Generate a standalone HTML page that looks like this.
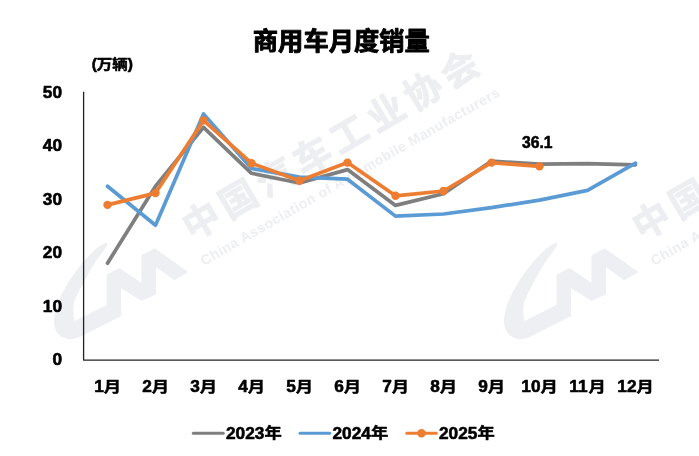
<!DOCTYPE html>
<html lang="zh-CN">
<head>
<meta charset="utf-8">
<title>商用车月度销量</title>
<style>
html,body{margin:0;padding:0;background:#fff;}
body{width:699px;height:456px;overflow:hidden;}
svg{display:block;}
text{font-family:"Liberation Sans", "Noto Sans CJK SC", sans-serif;font-weight:bold;fill:#000;stroke:#000;stroke-width:0.55px;stroke-linejoin:round;}
.wm text{fill:#edeef2;stroke:none;}
.wm .cn{font-weight:bold;font-size:37px;letter-spacing:5.8px;stroke:#edeef2;stroke-width:0.9px;}
.wm .en{font-weight:bold;font-size:14px;}
.ttl{stroke-width:0.9px;}
.leg{font-size:16px;}
</style>
</head>
<body>
<svg width="699" height="456" viewBox="0 0 699 456">
<rect width="699" height="456" fill="#fff"/>

<g class="wm" transform="translate(0,0)">
<path d="M106.8,241.9 C105.0,243.1 99.6,245.9 96.0,248.8 C92.4,251.8 88.7,255.8 85.3,259.6 C81.9,263.4 78.9,267.2 75.6,271.8 C72.3,276.4 68.6,281.7 65.5,287.2 C62.4,292.7 58.9,299.1 57.0,305.0 C55.1,310.9 53.7,317.8 54.0,322.7 C54.3,327.6 56.2,331.7 58.8,334.5 C61.4,337.3 65.9,338.9 69.5,339.3 C73.1,339.7 78.4,337.2 80.2,336.8 L121.2,316.1 L121.0,288.3 L141.4,300.8 L156.0,292.8 L119.6,267.9 L106.6,274.5 L106.6,305.0 L74.5,321.0 C74.3,319.7 73.5,316.1 73.4,313.1 C73.3,310.1 73.1,306.6 74.0,303.0 C74.9,299.4 76.7,296.2 78.8,291.8 C80.9,287.4 83.9,281.5 86.8,276.4 C89.7,271.3 92.8,266.0 96.0,261.1 C99.2,256.2 104.2,250.5 106.0,247.3 C107.8,244.1 106.7,242.8 106.8,241.9 Z" fill="#eeeff3"/>
<path d="M154.6,248.2 L188.3,272.0 L174.3,280.2 L155.9,267.1 L155.9,294.5 L141.4,300.8 L141.4,255.6 Z" fill="#eeeff3"/>
<text class="cn" transform="translate(192.2,241.6) rotate(-30.4)">中国汽车工业协会</text>
<text class="en" transform="translate(204.1,265.9) rotate(-29.9)" textLength="342" lengthAdjust="spacing">China Association of Automobile Manufacturers</text>
</g>
<g class="wm" transform="translate(450,0)">
<path d="M106.8,241.9 C105.0,243.1 99.6,245.9 96.0,248.8 C92.4,251.8 88.7,255.8 85.3,259.6 C81.9,263.4 78.9,267.2 75.6,271.8 C72.3,276.4 68.6,281.7 65.5,287.2 C62.4,292.7 58.9,299.1 57.0,305.0 C55.1,310.9 53.7,317.8 54.0,322.7 C54.3,327.6 56.2,331.7 58.8,334.5 C61.4,337.3 65.9,338.9 69.5,339.3 C73.1,339.7 78.4,337.2 80.2,336.8 L121.2,316.1 L121.0,288.3 L141.4,300.8 L156.0,292.8 L119.6,267.9 L106.6,274.5 L106.6,305.0 L74.5,321.0 C74.3,319.7 73.5,316.1 73.4,313.1 C73.3,310.1 73.1,306.6 74.0,303.0 C74.9,299.4 76.7,296.2 78.8,291.8 C80.9,287.4 83.9,281.5 86.8,276.4 C89.7,271.3 92.8,266.0 96.0,261.1 C99.2,256.2 104.2,250.5 106.0,247.3 C107.8,244.1 106.7,242.8 106.8,241.9 Z" fill="#eeeff3"/>
<path d="M154.6,248.2 L188.3,272.0 L174.3,280.2 L155.9,267.1 L155.9,294.5 L141.4,300.8 L141.4,255.6 Z" fill="#eeeff3"/>
<text class="cn" transform="translate(192.2,241.6) rotate(-30.4)">中国汽车工业协会</text>
<text class="en" transform="translate(204.1,265.9) rotate(-29.9)" textLength="342" lengthAdjust="spacing">China Association of Automobile Manufacturers</text>
</g>
<text class="ttl" transform="translate(341.3,49.9) scale(1.0,0.975)" font-size="25.3" text-anchor="middle">商用车月度销量</text>
<text transform="translate(91.7,68.8) scale(1.07,0.95)" font-size="14.5" text-anchor="start">(万辆)</text>
<path d="M83.6,91.8 V360.1 H659" fill="none" stroke="#222" stroke-width="1.3" stroke-linejoin="round"/>
<text transform="translate(62,365.2) scale(1.08,1.07)" font-size="16" text-anchor="end">0</text>
<text transform="translate(62,311.7) scale(1.08,1.07)" font-size="16" text-anchor="end">10</text>
<text transform="translate(62,258.2) scale(1.08,1.07)" font-size="16" text-anchor="end">20</text>
<text transform="translate(62,204.7) scale(1.08,1.07)" font-size="16" text-anchor="end">30</text>
<text transform="translate(62,151.2) scale(1.08,1.07)" font-size="16" text-anchor="end">40</text>
<text transform="translate(62,97.7) scale(1.08,1.07)" font-size="16" text-anchor="end">50</text>
<text transform="translate(94.16,392.1) scale(1.08,1.07)" font-size="16" text-anchor="start">1</text><text transform="translate(103.76,391.8) scale(1.08,0.91)" font-size="16" text-anchor="start">月</text>
<text transform="translate(142.16,392.1) scale(1.08,1.07)" font-size="16" text-anchor="start">2</text><text transform="translate(151.76,391.8) scale(1.08,0.91)" font-size="16" text-anchor="start">月</text>
<text transform="translate(190.16,392.1) scale(1.08,1.07)" font-size="16" text-anchor="start">3</text><text transform="translate(199.76,391.8) scale(1.08,0.91)" font-size="16" text-anchor="start">月</text>
<text transform="translate(238.16,392.1) scale(1.08,1.07)" font-size="16" text-anchor="start">4</text><text transform="translate(247.76,391.8) scale(1.08,0.91)" font-size="16" text-anchor="start">月</text>
<text transform="translate(286.16,392.1) scale(1.08,1.07)" font-size="16" text-anchor="start">5</text><text transform="translate(295.76,391.8) scale(1.08,0.91)" font-size="16" text-anchor="start">月</text>
<text transform="translate(334.16,392.1) scale(1.08,1.07)" font-size="16" text-anchor="start">6</text><text transform="translate(343.76,391.8) scale(1.08,0.91)" font-size="16" text-anchor="start">月</text>
<text transform="translate(382.16,392.1) scale(1.08,1.07)" font-size="16" text-anchor="start">7</text><text transform="translate(391.76,391.8) scale(1.08,0.91)" font-size="16" text-anchor="start">月</text>
<text transform="translate(430.16,392.1) scale(1.08,1.07)" font-size="16" text-anchor="start">8</text><text transform="translate(439.76,391.8) scale(1.08,0.91)" font-size="16" text-anchor="start">月</text>
<text transform="translate(478.16,392.1) scale(1.08,1.07)" font-size="16" text-anchor="start">9</text><text transform="translate(487.76,391.8) scale(1.08,0.91)" font-size="16" text-anchor="start">月</text>
<text transform="translate(521.35,392.1) scale(1.08,1.07)" font-size="16" text-anchor="start">10</text><text transform="translate(540.57,391.8) scale(1.08,0.91)" font-size="16" text-anchor="start">月</text>
<text transform="translate(569.35,392.1) scale(1.08,1.07)" font-size="16" text-anchor="start">11</text><text transform="translate(588.57,391.8) scale(1.08,0.91)" font-size="16" text-anchor="start">月</text>
<text transform="translate(617.35,392.1) scale(1.08,1.07)" font-size="16" text-anchor="start">12</text><text transform="translate(636.57,391.8) scale(1.08,0.91)" font-size="16" text-anchor="start">月</text>
<polyline points="107.5,263.2 155.5,186.2 203.5,127.3 251.5,173.3 299.5,183.0 347.5,169.6 395.5,205.4 443.5,193.7 491.5,161.0 539.5,164.2 587.5,163.7 635.5,164.8" fill="none" stroke="#7f7f7f" stroke-width="3.7" stroke-linecap="round" stroke-linejoin="round"/>
<polyline points="107.5,186.2 155.5,225.2 203.5,113.9 251.5,168.5 299.5,177.1 347.5,179.2 395.5,216.1 443.5,214.0 491.5,207.6 539.5,200.1 587.5,190.4 635.5,163.2" fill="none" stroke="#5b9bd5" stroke-width="3.7" stroke-linecap="round" stroke-linejoin="round"/>
<polyline points="107.5,204.9 155.5,193.1 203.5,120.4 251.5,163.2 299.5,180.8 347.5,162.6 395.5,195.8 443.5,191.0 491.5,162.6 539.5,166.4" fill="none" stroke="#ed7d31" stroke-width="3.7" stroke-linecap="round" stroke-linejoin="round"/>
<circle cx="107.5" cy="204.9" r="4.2" fill="#ed7d31"/>
<circle cx="155.5" cy="193.1" r="4.2" fill="#ed7d31"/>
<circle cx="203.5" cy="120.4" r="4.2" fill="#ed7d31"/>
<circle cx="251.5" cy="163.2" r="4.2" fill="#ed7d31"/>
<circle cx="299.5" cy="180.8" r="4.2" fill="#ed7d31"/>
<circle cx="347.5" cy="162.6" r="4.2" fill="#ed7d31"/>
<circle cx="395.5" cy="195.8" r="4.2" fill="#ed7d31"/>
<circle cx="443.5" cy="191.0" r="4.2" fill="#ed7d31"/>
<circle cx="491.5" cy="162.6" r="4.2" fill="#ed7d31"/>
<circle cx="539.5" cy="166.4" r="4.2" fill="#ed7d31"/>
<text transform="translate(537.3,148.4) scale(0.98,1.07)" font-size="16" text-anchor="middle">36.1</text>
<line x1="193.3" y1="433.2" x2="223.2" y2="433.2" stroke="#7f7f7f" stroke-width="3" stroke-linecap="round"/>
<text transform="translate(226,438.7) scale(1.08,1.07)" font-size="16" text-anchor="start">2023</text><text transform="translate(264.43,438.4) scale(1.08,0.91)" font-size="16" text-anchor="start">年</text>
<line x1="300" y1="433.2" x2="329.8" y2="433.2" stroke="#5b9bd5" stroke-width="3" stroke-linecap="round"/>
<text transform="translate(332.5,438.7) scale(1.08,1.07)" font-size="16" text-anchor="start">2024</text><text transform="translate(370.93,438.4) scale(1.08,0.91)" font-size="16" text-anchor="start">年</text>
<line x1="406.8" y1="433.2" x2="436.3" y2="433.2" stroke="#ed7d31" stroke-width="3" stroke-linecap="round"/>
<circle cx="421.5" cy="433.2" r="4.2" fill="#ed7d31"/>
<text transform="translate(439,438.7) scale(1.08,1.07)" font-size="16" text-anchor="start">2025</text><text transform="translate(477.43,438.4) scale(1.08,0.91)" font-size="16" text-anchor="start">年</text>
</svg>
</body>
</html>
